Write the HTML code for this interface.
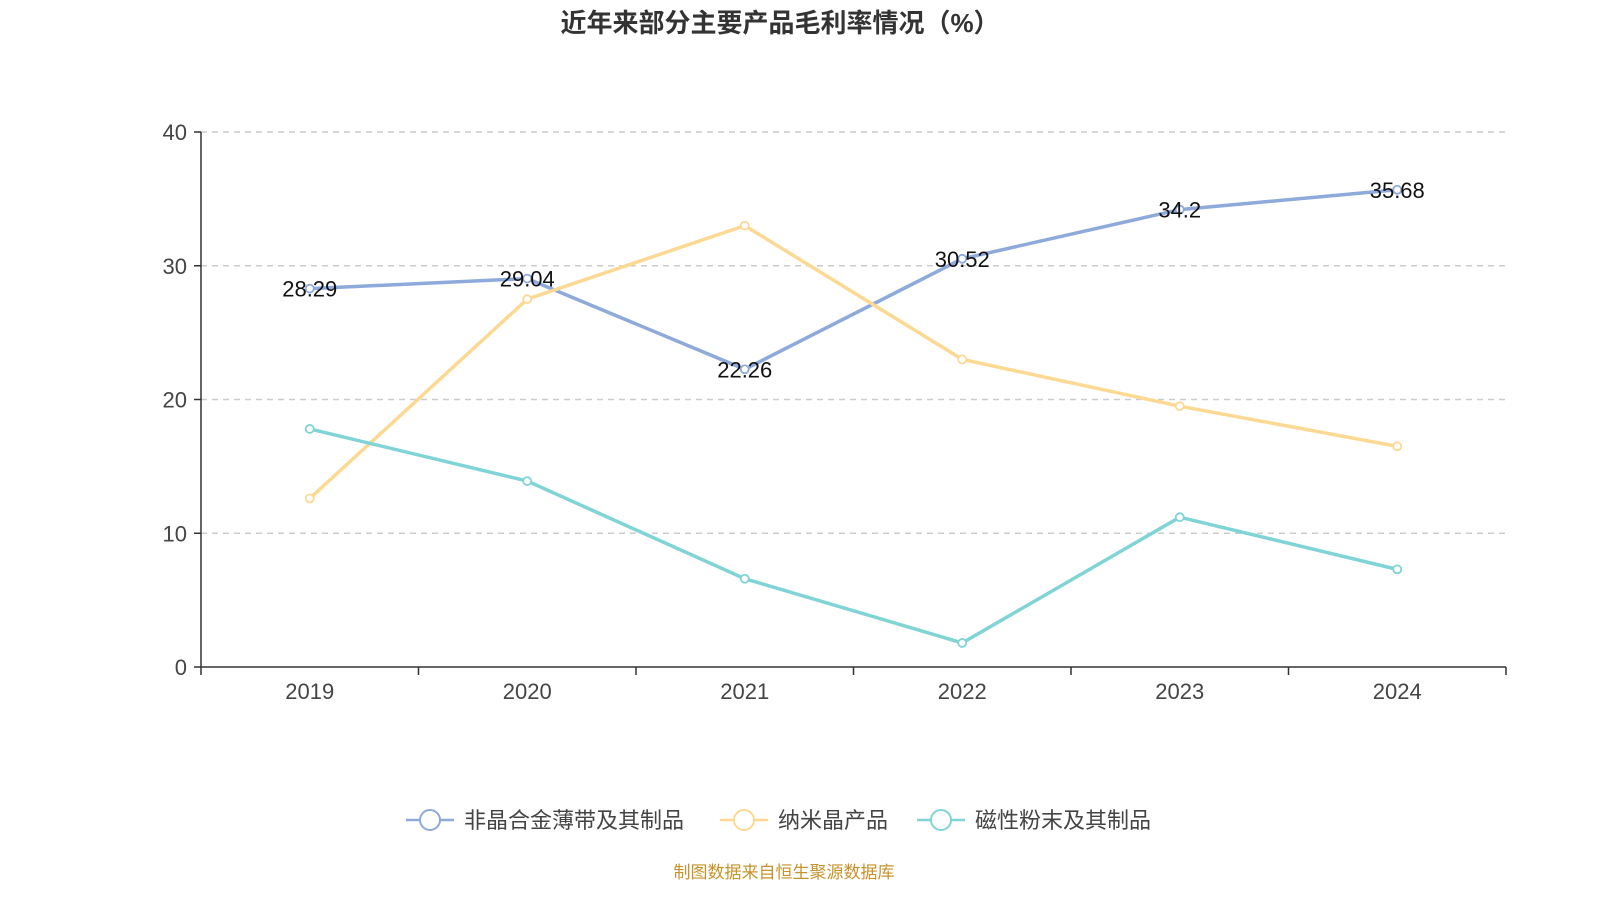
<!DOCTYPE html>
<html><head><meta charset="utf-8"><style>
body{margin:0;background:#fff;width:1600px;height:900px;overflow:hidden;font-family:"Liberation Sans","Noto Sans CJK SC",sans-serif}
</style></head><body>
<svg id="chart" width="1600" height="900" xmlns="http://www.w3.org/2000/svg" font-family="Liberation Sans, Noto Sans CJK SC, sans-serif">
<text x="780" y="32" text-anchor="middle" font-size="26" font-weight="bold" fill="#333">近年来部分主要产品毛利率情况（%）</text>
<g id="grid"></g><g id="axes"></g><g id="series"></g><g id="legend"></g>
<text x="784" y="878" text-anchor="middle" font-size="17" fill="#c8922a">制图数据来自恒生聚源数据库</text>
</svg>
<script>
const categories=["2019","2020","2021","2022","2023","2024"];
const seriesNames=["非晶合金薄带及其制品","纳米晶产品","磁性粉末及其制品"];
const amorphous=[28.29,29.04,22.26,30.52,34.2,35.68];
const nano=[12.6,27.5,33.0,23.0,19.5,16.5];
const powder=[17.8,13.9,6.6,1.8,11.2,7.3];
const yTicks=[0,10,20,30,40];
const colors=["#8eaadb","#fcd993","#80d4d6"];
const NS="http://www.w3.org/2000/svg";
const L=201,R=1506,T=132,B=667,yMax=40;
const step=(R-L)/categories.length;
const xs=i=>L+step*(i+0.5);
const ys=v=>B-(v/yMax)*(B-T);
function mk(tag,attrs,parent,text){const e=document.createElementNS(NS,tag);for(const k in attrs)e.setAttribute(k,attrs[k]);if(text!==undefined)e.textContent=text;document.getElementById(parent).appendChild(e);return e;}
yTicks.forEach(t=>{
 if(t>0){const g=mk('line',{x1:L,x2:R,y1:ys(t),y2:ys(t),stroke:'#ccc','stroke-dasharray':'6,5','stroke-width':1.5},'grid');
 
 }
 const tk=mk('line',{x1:L-7,x2:L,y1:ys(t),y2:ys(t),stroke:'#333','stroke-width':1.5},'axes');
 
 
 const tl=mk('text',{x:L-14,y:ys(t)+8,'text-anchor':'end','font-size':22,fill:'#444'},'axes',t);
 
 
});
const ya=mk('line',{x1:L,x2:L,y1:T,y2:B,stroke:'#333','stroke-width':1.5},'axes');


const xa=mk('line',{x1:L,x2:R,y1:B,y2:B,stroke:'#333','stroke-width':1.5},'axes');


for(let i=0;i<=categories.length;i++){const t=mk('line',{x1:L+step*i,x2:L+step*i,y1:B,y2:B+8,stroke:'#333','stroke-width':1.5},'axes');
 
 }
categories.forEach((c,i)=>{const t=mk('text',{x:xs(i),y:B+32,'text-anchor':'middle','font-size':22,fill:'#444'},'axes',c);
 
 });
[amorphous,nano,powder].forEach((d,s)=>{
 const p=mk('polyline',{points:d.map((v,i)=>xs(i)+','+ys(v)).join(' '),fill:'none',stroke:colors[s],'stroke-width':3.5},'series');
 
 
 d.forEach((v,i)=>{const c=mk('circle',{cx:xs(i),cy:ys(v),r:4,fill:'#fff',stroke:colors[s],'stroke-width':1.8},'series');
  
  
  if(s===0){const l=mk('text',{x:xs(i),y:ys(v)+8,'text-anchor':'middle','font-size':22,fill:'#111'},'series',v);
   
   }
 });
});
const lx=[406,720,917];
seriesNames.forEach((n,s)=>{
 const x=lx[s],y=820;
 const a=mk('line',{x1:x,x2:x+48,y1:y,y2:y,stroke:colors[s],'stroke-width':2.5},'legend');
 
 
 const c=mk('circle',{cx:x+24,cy:y,r:10,fill:'#fff',stroke:colors[s],'stroke-width':2},'legend');
 
 
 const t=mk('text',{x:x+58,y:y+8,'font-size':22,fill:'#444'},'legend',n);
 
 
});
</script>
</body></html>
